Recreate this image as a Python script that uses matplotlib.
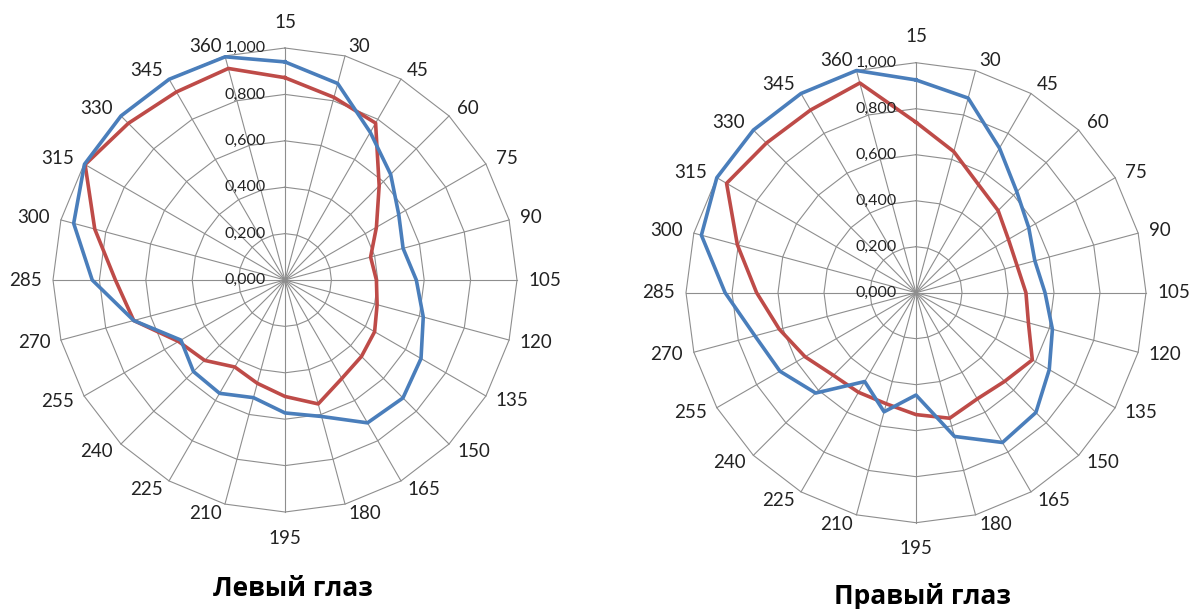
import numpy as np
import matplotlib.pyplot as plt
from matplotlib import transforms

# categories (degrees) going clockwise from the top
cats = [15, 30, 45, 60, 75, 90, 105, 120, 135, 150, 165, 180,
        195, 210, 225, 240, 255, 270, 285, 300, 315, 330, 345, 360]

left_blue = [0.94, 0.877, 0.735, 0.644, 0.566, 0.527, 0.566, 0.617, 0.677, 0.719, 0.711, 0.609,
             0.573, 0.525, 0.564, 0.558, 0.518, 0.675, 0.831, 0.943, 0.998, 1.0, 0.999, 0.996]
left_red = [0.872, 0.815, 0.781, 0.574, 0.455, 0.382, 0.394, 0.411, 0.446, 0.466, 0.49, 0.553,
            0.502, 0.461, 0.433, 0.49, 0.53, 0.675, 0.731, 0.849, 0.995, 0.955, 0.936, 0.944]

right_blue = [0.925, 0.876, 0.726, 0.62, 0.566, 0.535, 0.561, 0.614, 0.669, 0.737, 0.752, 0.647,
              0.445, 0.536, 0.446, 0.617, 0.683, 0.725, 0.83, 0.966, 1.0, 1.0, 1.0, 1.0]
right_red = [0.741, 0.635, 0.543, 0.505, 0.464, 0.455, 0.478, 0.506, 0.584, 0.545, 0.533, 0.565,
             0.53, 0.5, 0.5, 0.508, 0.557, 0.615, 0.693, 0.804, 0.951, 0.92, 0.917, 0.944]

rticks = [0.0, 0.2, 0.4, 0.6, 0.8, 1.0]

BLUE = '#4A7EBB'
RED = '#BE4B48'
GRID = '#8e8e8e'
NUMFONT = ['Lato', 'DejaVu Sans']

fig = plt.figure(figsize=(11.93, 6.09), dpi=100)


def radar(rect, blue, red, title, tx, ty):
    ax = fig.add_axes(rect, projection='polar')
    ax.set_theta_zero_location('N')
    ax.set_theta_direction(-1)
    ax.set_ylim(0, 1)
    ax.grid(False)
    ax.set_xticks([])
    ax.set_yticks([])
    ax.spines['polar'].set_visible(False)

    ang = np.deg2rad(np.arange(len(cats)) * 15.0)
    closed = np.append(ang, ang[0])

    # polygon rings and spokes like excel
    for r in rticks[1:]:
        ax.plot(closed, [r] * len(closed), color=GRID, lw=0.8, clip_on=False)
    for a in ang:
        ax.plot([a, a], [0, 1], color=GRID, lw=0.8, clip_on=False)

    ax.plot(closed, red + red[:1], color=RED, lw=2.6, clip_on=False)
    ax.plot(closed, blue + blue[:1], color=BLUE, lw=2.6, clip_on=False)

    # excel-style category labels: anchored by the edge facing the vertex
    for a, c in zip(ang, cats):
        s, co = np.sin(a), np.cos(a)
        if abs(s) < 0.01:
            ha, dx, dy = 'center', 0, 26 * np.sign(co)
        else:
            ha = 'left' if s > 0 else 'right'
            dx = np.sign(s) * (1 + 10 * abs(s))
            dy = 10 * co
        ax.annotate(str(c), xy=(a, 1.0), xytext=(dx, dy), textcoords='offset pixels',
                    ha=ha, va='center', fontsize=13.5, family=NUMFONT, color='#222222')

    off = transforms.offset_copy(ax.transData, fig=fig, x=-19, y=0, units='dots')
    for r in rticks:
        ax.text(0, r, f'{r:.3f}'.replace('.', ','), transform=off, ha='right',
                va='center', fontsize=11.5, family=NUMFONT, color='#222222')

    fig.text(tx / 1193, 1 - ty / 609, title, ha='center', va='center',
             fontsize=19, fontweight='bold', family=['Open Sans', 'DejaVu Sans'])
    return ax


radar([(285 - 232) / 1193, 1 - (280 + 232) / 609, 464 / 1193, 464 / 609],
      left_blue, left_red, 'Левый глаз', 293, 588)
radar([(916 - 230) / 1193, 1 - (292.7 + 230) / 609, 460 / 1193, 460 / 609],
      right_blue, right_red, 'Правый глаз', 922, 597)

fig.savefig('out.png', dpi=100)
